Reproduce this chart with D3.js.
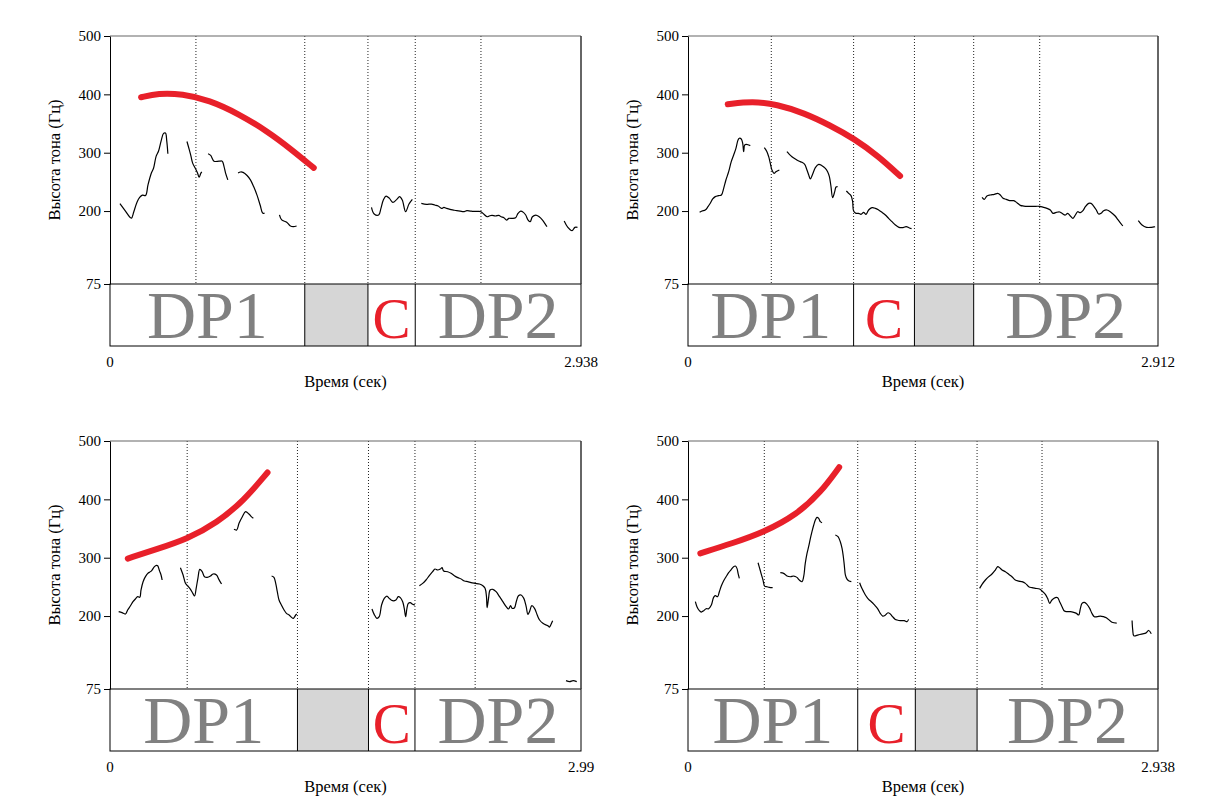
<!DOCTYPE html>
<html>
<head>
<meta charset="utf-8">
<script src="https://cdn.jsdelivr.net/npm/d3@7"></script>
<style>
  body { margin: 0; background: #fff; }
  svg text { font-family: "Liberation Serif", "Tinos", "DejaVu Serif", "Noto Serif", serif !important; }
</style>
</head>
<body>
<div id="chart"></div>
<script>
// durations of the four recordings (s)
const durations = [2.938, 2.912, 2.99, 2.938];
const yTicks = [75, 200, 300, 400, 500];

// interval tier: edges (s) and labels ("" = grey pause)
const tierEdges = [
  [0, 1.215, 1.609, 1.904, 2.938],
  [0, 1.026, 1.403, 1.770, 2.912],
  [0, 1.190, 1.641, 1.936, 2.99],
  [0, 1.061, 1.421, 1.807, 2.938]
];
const tierLabels = [
  ['DP1', '', 'C', 'DP2'],
  ['DP1', 'C', '', 'DP2'],
  ['DP1', '', 'C', 'DP2'],
  ['DP1', 'C', '', 'DP2']
];
// dotted boundaries in the pitch area (s)
const boundaryLines = [
  [0.536, 1.215, 1.609, 1.904, 2.314],
  [0.516, 1.026, 1.403, 1.770, 2.179],
  [0.490, 1.190, 1.641, 1.936, 2.318],
  [0.477, 1.061, 1.421, 1.807, 2.213]
];

// stylised red contours [t, Hz]
const red1 = [[0.194,395],[0.30,402],[0.45,401],[0.62,390],[0.80,367],[0.98,337],[1.13,306],[1.271,274]];
const red2 = [[0.246,383],[0.40,388],[0.55,383],[0.72,368],[0.88,347],[1.03,324],[1.18,294],[1.314,260]];
const red3 = [[0.113,298.5],[0.30,315],[0.49,332],[0.68,360],[0.85,398],[1.0,446]];
const red4 = [[0.077,307.5],[0.28,325],[0.477,344],[0.68,374],[0.83,412],[0.945,455]];

// measured pitch contours, segments of [t, Hz]
const pitch1 = [
  [[0.062,212.8],[0.093,201.2],[0.124,189.5],[0.134,187.8],[0.148,198.3],[0.169,215.7],[0.185,223.3],[0.202,227.3],[0.222,226.7],[0.237,244.8],[0.258,265.1],[0.272,273.8],[0.288,294.2],[0.303,302.9],[0.319,320.3],[0.334,333.1],[0.346,333.7],[0.354,320.3],[0.361,298.3]],
  [[0.480,319.2],[0.494,305.8],[0.505,294.2],[0.515,282.6],[0.531,273.8],[0.546,265.1],[0.556,258.1],[0.567,265.1],[0.573,266.9]],
  [[0.612,298.3],[0.628,295.3],[0.649,285.5],[0.680,285.5],[0.700,285.5],[0.711,276.7],[0.721,265.1],[0.735,253.5]],
  [[0.799,265.1],[0.814,266.9],[0.830,266.3],[0.855,261.0],[0.876,253.5],[0.896,241.9],[0.917,227.3],[0.937,209.9],[0.952,196.5],[0.964,196.5]],
  [[1.057,193.6],[1.071,184.9],[1.102,180.8],[1.123,175.0],[1.143,173.3],[1.164,174.4]],
  [[1.631,206.3],[1.648,194.9],[1.676,193.2],[1.690,204.6],[1.705,218.9],[1.722,225.7],[1.743,221.7],[1.764,214.9],[1.789,220.0],[1.806,224.6],[1.823,218.9],[1.844,198.9],[1.865,212.0],[1.886,220.0]],
  [[1.942,213.2],[1.974,211.5],[2.005,212.0],[2.026,210.3],[2.047,208.6],[2.068,204.6],[2.083,206.3],[2.100,204.6],[2.121,202.9],[2.142,201.7],[2.163,200.6],[2.184,200.0],[2.205,198.9],[2.226,200.6],[2.247,200.0],[2.268,199.5],[2.299,199.5],[2.314,198.9],[2.331,194.9],[2.352,190.3],[2.369,192.0],[2.383,192.6],[2.404,191.5],[2.425,192.6],[2.440,190.3],[2.457,188.6],[2.474,184.6],[2.488,187.5],[2.509,187.5],[2.530,188.6],[2.545,196.0],[2.562,200.0],[2.579,197.7],[2.593,193.2],[2.608,184.6],[2.621,181.7],[2.635,190.3],[2.656,193.2],[2.677,190.3],[2.698,184.6],[2.719,176.0],[2.726,173.5]],
  [[2.833,183.0],[2.856,172.1],[2.882,166.4],[2.900,172.1],[2.916,172.1]]
];
const pitch2 = [
  [[0.072,197.8],[0.087,200.1],[0.107,201.8],[0.124,207.5],[0.138,213.3],[0.153,220.7],[0.169,224.7],[0.190,226.4],[0.207,227.5],[0.221,239.0],[0.235,253.2],[0.252,267.5],[0.268,284.7],[0.283,296.1],[0.297,307.5],[0.310,321.8],[0.318,324.7],[0.330,323.5],[0.339,316.1],[0.345,301.8],[0.351,313.2],[0.361,314.4],[0.376,313.2],[0.386,312.1]],
  [[0.473,308.7],[0.489,301.8],[0.500,293.2],[0.510,281.8],[0.520,270.4],[0.533,264.7],[0.545,267.5],[0.566,270.4]],
  [[0.613,301.8],[0.628,297.2],[0.644,293.2],[0.665,289.2],[0.686,285.8],[0.706,283.5],[0.723,280.1],[0.737,270.4],[0.748,261.8],[0.758,255.0],[0.772,263.0],[0.789,274.4],[0.810,280.1],[0.830,277.8],[0.851,273.2],[0.865,267.5],[0.876,259.0],[0.886,241.8],[0.896,223.0],[0.909,233.2],[0.917,241.2],[0.927,241.8]],
  [[0.981,234.4],[0.995,230.4],[1.010,226.4],[1.020,216.1],[1.026,200.1],[1.041,196.1],[1.057,196.1],[1.072,194.4],[1.088,197.8],[1.103,194.4],[1.119,201.8],[1.140,205.8],[1.161,204.7],[1.181,201.8],[1.202,197.8],[1.223,193.3],[1.243,187.5],[1.264,181.8],[1.285,176.1],[1.307,172.1],[1.327,171.5],[1.352,173.2],[1.369,171.5],[1.385,169.8]],
  [[1.822,223.5],[1.836,220.1],[1.852,225.8],[1.873,227.5],[1.898,228.6],[1.919,230.4],[1.935,227.5],[1.952,221.8],[1.972,220.1],[1.993,217.8],[2.018,217.8],[2.038,214.4],[2.059,209.8],[2.080,208.6],[2.111,208.1],[2.142,208.1],[2.179,208.1],[2.204,206.4],[2.224,204.6],[2.245,201.8],[2.261,196.1],[2.282,197.8],[2.303,198.4],[2.317,196.1],[2.338,193.2],[2.352,196.1],[2.369,191.5],[2.385,187.5],[2.400,193.2],[2.414,198.9],[2.431,197.2],[2.447,200.6],[2.462,207.5],[2.482,213.2],[2.497,213.2],[2.513,208.6],[2.530,201.8],[2.544,194.9],[2.559,196.1],[2.575,200.6],[2.596,201.8],[2.620,198.0],[2.645,192.0],[2.665,184.7],[2.694,174.4]],
  [[2.790,183.5],[2.813,176.1],[2.841,172.1],[2.871,172.1],[2.894,173.3]]
];
const pitch3 = [
  [[0.055,207.5],[0.076,205.8],[0.098,203.5],[0.112,210.4],[0.129,217.2],[0.146,224.7],[0.161,229.2],[0.176,233.2],[0.189,232.1],[0.197,244.7],[0.210,258.9],[0.225,267.5],[0.240,273.2],[0.257,276.1],[0.267,278.9],[0.282,284.6],[0.295,286.9],[0.303,286.3],[0.314,277.8],[0.324,270.4],[0.331,261.8]],
  [[0.447,282.9],[0.464,270.4],[0.479,256.1],[0.494,251.5],[0.511,245.8],[0.526,238.9],[0.537,234.4],[0.547,247.5],[0.558,264.7],[0.570,280.1],[0.585,276.1],[0.600,267.5],[0.617,266.4],[0.638,268.7],[0.655,272.1],[0.676,270.4],[0.691,262.9],[0.708,254.9]],
  [[0.787,348.6],[0.804,347.5],[0.819,358.9],[0.840,370.3],[0.861,378.9],[0.882,374.9],[0.897,370.3],[0.910,367.5]],
  [[1.026,268.7],[1.041,266.4],[1.052,256.1],[1.062,241.8],[1.073,227.5],[1.088,218.9],[1.105,210.4],[1.120,204.7],[1.137,201.8],[1.152,197.8],[1.164,196.1],[1.179,201.8],[1.186,203.5]],
  [[1.663,212.1],[1.677,202.9],[1.694,196.1],[1.709,198.9],[1.724,218.9],[1.741,230.3],[1.758,234.3],[1.773,230.3],[1.794,226.3],[1.815,227.5],[1.830,233.2],[1.843,231.5],[1.858,224.6],[1.868,213.2],[1.877,198.9],[1.885,213.2],[1.894,221.8],[1.906,222.9],[1.921,220.1],[1.936,218.9]],
  [[1.964,252.0],[1.985,256.0],[2.006,261.8],[2.027,269.2],[2.048,276.0],[2.063,280.6],[2.080,278.9],[2.097,280.6],[2.108,282.9],[2.118,277.2],[2.144,276.0],[2.165,273.2],[2.186,269.2],[2.208,265.8],[2.229,263.5],[2.250,260.0],[2.271,258.9],[2.292,257.2],[2.318,256.0],[2.345,254.9],[2.367,252.0],[2.381,247.5],[2.390,233.2],[2.394,214.3],[2.403,230.3],[2.413,244.6],[2.430,245.8],[2.451,241.8],[2.473,233.2],[2.494,224.6],[2.515,216.1],[2.530,212.1],[2.543,217.8],[2.553,213.2],[2.568,214.3],[2.579,224.6],[2.593,234.9],[2.610,236.0],[2.627,230.3],[2.642,216.1],[2.653,202.9],[2.663,207.5],[2.678,217.8],[2.695,213.2],[2.712,201.8],[2.727,193.2],[2.748,187.5],[2.769,184.6],[2.780,183.5],[2.790,181.0],[2.800,186.0],[2.810,192.0]],
  [[2.895,89.4],[2.918,87.6],[2.940,89.4],[2.963,87.6]]
];
const pitch4 = [
  [[0.046,224.6],[0.056,216.0],[0.071,209.2],[0.083,206.9],[0.098,209.2],[0.113,212.6],[0.129,212.6],[0.146,218.9],[0.160,232.0],[0.171,234.9],[0.185,233.2],[0.196,241.7],[0.208,251.4],[0.223,260.6],[0.238,267.4],[0.254,274.3],[0.271,280.0],[0.285,284.6],[0.296,285.7],[0.306,281.7],[0.313,273.2],[0.321,264.6]],
  [[0.438,291.4],[0.448,281.7],[0.458,272.0],[0.469,261.7],[0.479,251.4],[0.494,250.3],[0.508,249.2],[0.529,248.6]],
  [[0.577,274.3],[0.598,273.2],[0.619,268.6],[0.640,267.4],[0.661,268.6],[0.681,266.3],[0.696,261.7],[0.713,258.9],[0.723,267.4],[0.733,290.3],[0.744,307.4],[0.754,318.9],[0.765,333.1],[0.775,344.6],[0.786,356.0],[0.796,364.6],[0.806,369.1],[0.817,367.4],[0.827,361.7],[0.838,360.0]],
  [[0.921,338.9],[0.938,336.0],[0.952,327.4],[0.963,316.0],[0.971,301.7],[0.977,287.4],[0.984,270.3],[0.994,263.4],[1.004,260.6],[1.021,258.9]],
  [[1.073,257.2],[1.084,249.2],[1.098,241.7],[1.113,234.3],[1.129,228.6],[1.146,224.6],[1.161,220.6],[1.175,216.0],[1.188,211.5],[1.202,204.6],[1.217,200.0],[1.234,201.7],[1.250,205.7],[1.265,203.5],[1.279,198.9],[1.296,194.3],[1.307,193.2],[1.327,192.1],[1.352,192.1],[1.369,190.4],[1.379,194.3]],
  [[1.823,247.5],[1.838,254.3],[1.859,261.8],[1.880,267.5],[1.900,272.0],[1.921,278.9],[1.936,284.6],[1.948,282.9],[1.963,278.9],[1.984,276.0],[2.005,271.5],[2.025,267.5],[2.046,261.8],[2.067,260.0],[2.088,258.9],[2.109,256.0],[2.130,250.3],[2.150,248.6],[2.171,247.5],[2.198,246.3],[2.213,242.9],[2.234,237.2],[2.248,230.3],[2.261,221.8],[2.275,227.5],[2.296,231.5],[2.311,231.5],[2.323,224.6],[2.338,216.1],[2.353,208.6],[2.369,207.5],[2.390,207.5],[2.411,206.3],[2.428,204.6],[2.442,201.8],[2.453,213.2],[2.463,221.8],[2.478,223.5],[2.494,220.1],[2.511,213.2],[2.525,204.6],[2.540,198.9],[2.557,198.9],[2.578,200.0],[2.598,198.9],[2.615,197.2],[2.650,189.5],[2.680,188.0]],
  [[2.776,192.4],[2.780,176.4],[2.787,166.1],[2.815,167.8],[2.843,169.5],[2.861,170.7],[2.880,175.3],[2.896,169.5]]
];

const reds = [red1, red2, red3, red4];
const pitches = [pitch1, pitch2, pitch3, pitch4];

const panelPos = [
  { left: 110, top: 36, width: 471 },
  { left: 688, top: 36, width: 470 },
  { left: 110, top: 441, width: 471 },
  { left: 688, top: 441, width: 470 }
];
const pitchH = 248;
const tierH = 62;
const serif = '"Liberation Serif", "Tinos", "DejaVu Serif", "Noto Serif", serif';

const svg = d3.select('#chart')
  .append('svg')
  .attr('width', 1221)
  .attr('height', 800)
  .attr('font-family', serif);

const drawPanel = (i) => {
  const p = panelPos[i];
  const g = svg.append('g')
    .attr('transform', `translate(${p.left},${p.top})`);

  const x = d3.scaleLinear().domain([0, durations[i]]).range([0, p.width]);
  const y = d3.scaleLinear().domain([75, 500]).range([pitchH, 0]);

  const edges = tierEdges[i];
  const intervals = tierLabels[i].map((lab, j) => ({ lab, start: edges[j], end: edges[j + 1] }));

  // grey pause intervals
  g.selectAll('rect.pause').data(intervals.filter(d => d.lab === ''))
    .enter().append('rect')
    .attr('x', d => x(d.start))
    .attr('y', pitchH)
    .attr('width', d => x(d.end) - x(d.start))
    .attr('height', tierH)
    .attr('fill', '#d6d6d6');

  // dotted boundaries over pitch area
  g.selectAll('line.dot').data(boundaryLines[i])
    .enter().append('line')
    .attr('x1', d => x(d)).attr('x2', d => x(d))
    .attr('y1', 0).attr('y2', pitchH)
    .attr('stroke', '#222')
    .attr('stroke-width', 1)
    .attr('stroke-dasharray', '1,2');

  // solid interval boundaries in tier
  g.selectAll('line.edge').data(edges.slice(1, -1))
    .enter().append('line')
    .attr('x1', d => x(d)).attr('x2', d => x(d))
    .attr('y1', pitchH).attr('y2', pitchH + tierH)
    .attr('stroke', '#000')
    .attr('stroke-width', 1);

  // tier box
  g.append('rect')
    .attr('x', 0).attr('y', pitchH)
    .attr('width', p.width).attr('height', tierH)
    .attr('fill', 'none')
    .attr('stroke', '#000')
    .attr('stroke-width', 1);

  // frame top and right
  g.append('line')
    .attr('x1', 0).attr('x2', p.width).attr('y1', 0).attr('y2', 0)
    .attr('stroke', '#666').attr('stroke-width', 1.2);
  g.append('line')
    .attr('x1', p.width).attr('x2', p.width).attr('y1', 0).attr('y2', pitchH)
    .attr('stroke', '#333').attr('stroke-width', 1.5);

  // interval labels
  g.selectAll('text.lab').data(intervals.filter(d => d.lab !== ''))
    .enter().append('text')
    .attr('x', d => x((d.start + d.end) / 2))
    .attr('y', pitchH + tierH - 8)
    .attr('text-anchor', 'middle')
    .attr('font-size', d => d.lab === 'C' ? 57 : 68)
    .attr('fill', d => d.lab === 'C' ? '#e8202a' : '#808080')
    .text(d => d.lab);

  // y axis
  const yAxis = d3.axisLeft(y).tickValues(yTicks).tickSize(6).tickSizeOuter(0);
  const ya = g.append('g').call(yAxis).attr('font-family', serif).attr('font-size', 15);
  ya.select('.domain').attr('stroke', '#000');
  ya.selectAll('text').attr('fill', '#000');

  // x axis labels at both ends
  g.selectAll('text.xt').data([0, durations[i]])
    .enter().append('text')
    .attr('x', d => x(d))
    .attr('y', pitchH + tierH + 21)
    .attr('text-anchor', 'middle')
    .attr('font-size', 15)
    .text(d => d === 0 ? '0' : String(d));

  g.append('text')
    .attr('x', p.width / 2)
    .attr('y', pitchH + tierH + 41)
    .attr('text-anchor', 'middle')
    .attr('font-size', 16.5)
    .text('Время (сек)');

  g.append('text')
    .attr('transform', 'rotate(-90)')
    .attr('x', -pitchH / 2)
    .attr('y', -50)
    .attr('text-anchor', 'middle')
    .attr('font-size', 16.5)
    .text('Высота тона (Гц)');

  // measured pitch
  const pitchLine = d3.line()
    .x(d => x(d[0])).y(d => y(d[1]))
    .curve(d3.curveCatmullRom.alpha(0.5));
  g.selectAll('path.pitch').data(pitches[i])
    .enter().append('path')
    .attr('d', pitchLine)
    .attr('fill', 'none')
    .attr('stroke', '#000')
    .attr('stroke-width', 1.2);

  // stylised contour
  const redLine = d3.line()
    .x(d => x(d[0])).y(d => y(d[1]))
    .curve(d3.curveBasis);
  g.append('path')
    .datum(reds[i])
    .attr('d', redLine)
    .attr('fill', 'none')
    .attr('stroke', '#e8202a')
    .attr('stroke-width', 6)
    .attr('stroke-linecap', 'round');
};

[0, 1, 2, 3].forEach(drawPanel);
</script>
</body>
</html>
